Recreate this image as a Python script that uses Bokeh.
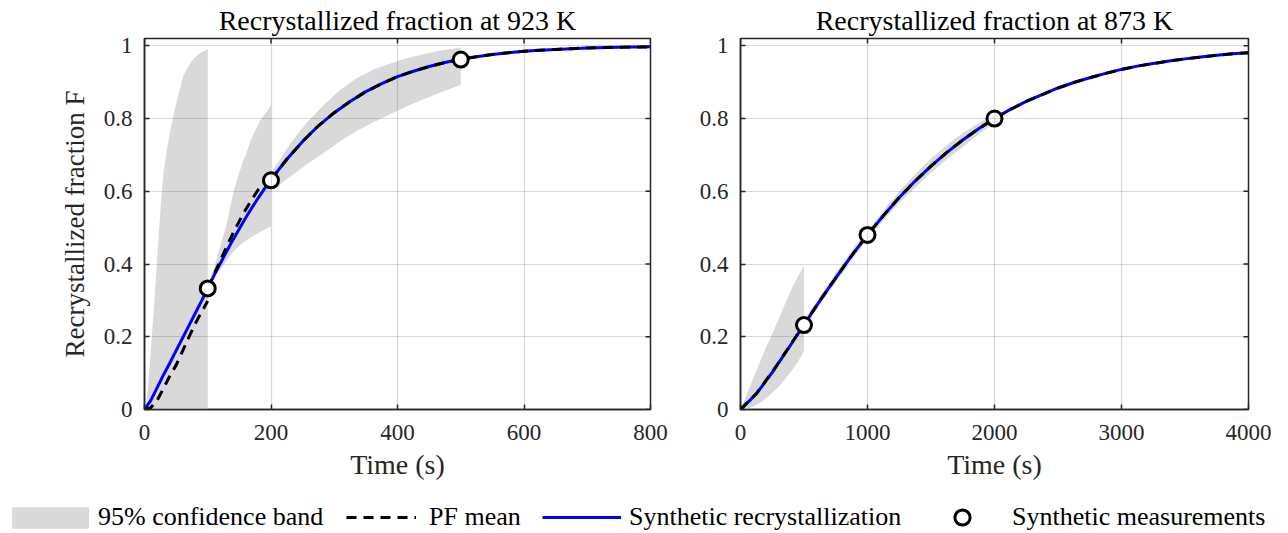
import math
from bokeh.plotting import figure
from bokeh.models import Range1d, FixedTicker, Legend, LegendItem
from bokeh.layouts import row, column
from bokeh.embed import file_html
from bokeh.resources import INLINE

# ---------------- data ----------------
# 923 K panel
t_923 = [0, 10, 20, 30, 40, 50, 60, 70, 80, 90, 100, 110, 120, 130, 140, 150, 160,
         170, 180, 190, 200, 225, 250, 275, 300, 325, 350, 375, 400, 425, 450, 475,
         500, 525, 550, 575, 600, 625, 650, 675, 700, 750, 800]
syn_923 = [0, 0.025, 0.06, 0.095, 0.128, 0.162, 0.196, 0.23, 0.264, 0.298, 0.333,
           0.369, 0.402, 0.435, 0.467, 0.497, 0.527, 0.555, 0.582, 0.608, 0.632,
           0.688, 0.737, 0.780, 0.816, 0.847, 0.874, 0.896, 0.915, 0.930, 0.943,
           0.954, 0.963, 0.970, 0.976, 0.981, 0.985, 0.988, 0.990, 0.992, 0.994,
           0.996, 0.997]
pf1_t_923 = [0, 10, 20, 30, 40, 50, 60, 70, 80, 90, 100]
pf1_923 = [0, 0.005, 0.025, 0.058, 0.092, 0.122, 0.16, 0.198, 0.235, 0.268, 0.298]
pf2_t_923 = [100, 110, 120, 130, 140, 150, 160, 170, 180, 190, 200]
pf2_923 = [0.333, 0.372, 0.41, 0.448, 0.485, 0.518, 0.55, 0.578, 0.605, 0.627, 0.645]
pf3_t_923 = [200, 225, 250, 275, 300, 325, 350, 375, 400, 425, 450, 475, 500, 525,
             550, 575, 600, 625, 650, 675, 700, 750, 800]
pf3_923 = [0.632, 0.688, 0.737, 0.780, 0.816, 0.847, 0.874, 0.896, 0.915, 0.930,
           0.943, 0.954, 0.963, 0.970, 0.976, 0.981, 0.985, 0.988, 0.990, 0.992,
           0.994, 0.996, 0.997]
b1_t_923 = [0, 3, 6, 9, 12, 16, 20, 26, 30, 35, 40, 46, 54, 62, 70, 78, 88, 100]
b1_hi_923 = [0, 0.02, 0.07, 0.14, 0.21, 0.31, 0.41, 0.57, 0.65, 0.71, 0.76, 0.81,
             0.87, 0.92, 0.945, 0.966, 0.98, 0.99]
b1_lo_923 = [0] * 18
b2_t_923 = [100, 110, 115, 120, 130, 141, 155, 160, 168, 180, 185, 200]
b2_hi_923 = [0.34, 0.39, 0.42, 0.45, 0.51, 0.60, 0.68, 0.70, 0.74, 0.785, 0.80, 0.835]
b2_lo_923 = [0.33, 0.36, 0.375, 0.385, 0.41, 0.435, 0.458, 0.463, 0.473, 0.485, 0.49, 0.504]
b3_t_923 = [200, 215, 230, 257, 285, 310, 335, 362, 390, 415, 440, 470, 500]
b3_hi_923 = [0.65, 0.69, 0.73, 0.79, 0.84, 0.88, 0.91, 0.935, 0.952, 0.966, 0.977,
             0.988, 0.995]
b3_lo_923 = [0.60, 0.62, 0.64, 0.674, 0.707, 0.738, 0.765, 0.79, 0.813, 0.834, 0.852,
             0.873, 0.893]
meas_t_923 = [100, 200, 500]
meas_923 = [0.333, 0.63, 0.962]

# 873 K panel
t_873 = [0, 125, 250, 375, 500, 625, 750, 875, 1000, 1125, 1250, 1375, 1500, 1625,
         1750, 1875, 2000, 2125, 2250, 2375, 2500, 2625, 2750, 2875, 3000, 3125,
         3250, 3375, 3500, 3625, 3750, 3875, 4000]
syn_873 = [0, 0.043, 0.102, 0.167, 0.233, 0.299, 0.362, 0.423, 0.480, 0.533, 0.583,
           0.628, 0.669, 0.707, 0.741, 0.772, 0.800, 0.825, 0.847, 0.866, 0.884,
           0.899, 0.912, 0.924, 0.935, 0.944, 0.951, 0.958, 0.964, 0.969, 0.974,
           0.978, 0.981]
pf_873 = [0, 0.044, 0.103, 0.168, 0.234, 0.299, 0.362, 0.423, 0.481, 0.533, 0.583,
          0.628, 0.669, 0.707, 0.741, 0.772, 0.800, 0.825, 0.847, 0.866, 0.884,
          0.899, 0.912, 0.924, 0.935, 0.944, 0.951, 0.958, 0.964, 0.969, 0.974,
          0.978, 0.981]
b1_t_873 = [0, 50, 100, 150, 200, 262, 300, 350, 400, 450, 500]
b1_hi_873 = [0, 0.042, 0.085, 0.128, 0.17, 0.218, 0.248, 0.29, 0.33, 0.364, 0.394]
b1_lo_873 = [0, 0.003, 0.008, 0.018, 0.03, 0.05, 0.062, 0.083, 0.105, 0.13, 0.16]
b2_t_873 = [500, 625, 750, 875, 1000]
b2_hi_873 = [0.245, 0.311, 0.375, 0.436, 0.492]
b2_lo_873 = [0.222, 0.287, 0.35, 0.41, 0.468]
b3_t_873 = [1000, 1125, 1250, 1375, 1500, 1625, 1750, 1875, 2000]
b3_hi_873 = [0.49, 0.548, 0.60, 0.647, 0.69, 0.727, 0.76, 0.788, 0.812]
b3_lo_873 = [0.47, 0.52, 0.568, 0.61, 0.65, 0.688, 0.722, 0.757, 0.788]
meas_t_873 = [500, 1000, 2000]
meas_873 = [0.232, 0.48, 0.80]

y_ticks = [0, 0.2, 0.4, 0.6, 0.8, 1]
x_ticks_923 = [0, 200, 400, 600, 800]
x_ticks_873 = [0, 1000, 2000, 3000, 4000]

FONT = "Liberation Serif"
AX = "#262626"
BAND = "#d9d9d9"
DASH = "10 7"
YMAX = 1.02


def style_axis(ax, ticks):
    ax.ticker = FixedTicker(ticks=ticks)
    ax.axis_line_color = AX
    ax.axis_line_width = 1.5
    ax.major_tick_line_color = AX
    ax.major_tick_line_width = 1.5
    ax.major_tick_in = 5
    ax.major_tick_out = 0
    ax.minor_tick_line_color = None
    ax.major_label_text_font = FONT
    ax.major_label_text_color = AX
    ax.major_label_text_font_size = "23px"


def make_panel(title, xmax, xticks, border, ylabel):
    p = figure(frame_width=border[2], frame_height=371, min_border_left=border[0],
               min_border_right=border[1], min_border_top=37, min_border_bottom=85,
               x_range=Range1d(0, xmax), y_range=Range1d(0, YMAX),
               output_backend="svg", toolbar_location=None, title=title)
    p.title.text_font = FONT
    p.title.text_font_size = "28px"
    p.title.text_font_style = "normal"
    p.title.text_color = "black"
    p.title.align = "center"
    p.title.standoff = 5
    p.outline_line_color = AX
    p.outline_line_width = 1.5
    xa = p.xaxis[0]
    ya = p.yaxis[0]
    style_axis(xa, xticks)
    style_axis(ya, y_ticks)
    ya.major_label_overrides = {0: "0", 1: "1"}
    xa.major_label_standoff = 15
    ya.major_label_standoff = 12
    xa.axis_label = "Time (s)"
    xa.axis_label_text_font = FONT
    xa.axis_label_text_font_size = "28px"
    xa.axis_label_text_font_style = "normal"
    xa.axis_label_text_color = AX
    xa.axis_label_standoff = 6
    if ylabel:
        ya.axis_label = ylabel
        ya.axis_label_text_font = FONT
        ya.axis_label_text_font_size = "27px"
        ya.axis_label_text_font_style = "normal"
        ya.axis_label_text_color = AX
        ya.axis_label_standoff = 11
    for g in (p.xgrid[0], p.ygrid[0]):
        g.grid_line_color = AX
        g.grid_line_alpha = 0.17
        g.grid_line_width = 1.2
        g.level = "glyph"
    p.xgrid[0].ticker = FixedTicker(ticks=xticks)
    p.ygrid[0].ticker = FixedTicker(ticks=y_ticks)
    return p


p1 = make_panel("Recrystallized fraction at 923 K", 800, x_ticks_923,
                (144, 46, 506), "Recrystallized fraction F")
p2 = make_panel("Recrystallized fraction at 873 K", 4000, x_ticks_873,
                (44, 40, 508), None)

# bands
for (bt, lo, hi) in [(b1_t_923, b1_lo_923, b1_hi_923), (b2_t_923, b2_lo_923, b2_hi_923),
                     (b3_t_923, b3_lo_923, b3_hi_923)]:
    r = p1.varea(x=bt, y1=lo, y2=hi, fill_color=BAND, fill_alpha=1)
    r.level = "underlay"
for (bt, lo, hi) in [(b1_t_873, b1_lo_873, b1_hi_873), (b2_t_873, b2_lo_873, b2_hi_873),
                     (b3_t_873, b3_lo_873, b3_hi_873)]:
    r = p2.varea(x=bt, y1=lo, y2=hi, fill_color=BAND, fill_alpha=1)
    r.level = "underlay"

# synthetic curves
p1.line(t_923, syn_923, line_color="#0000ff", line_width=3)
p2.line(t_873, syn_873, line_color="#0000ff", line_width=3)

# PF mean
for (pt, pv) in [(pf1_t_923, pf1_923), (pf2_t_923, pf2_923), (pf3_t_923, pf3_923)]:
    p1.line(pt, pv, line_color="black", line_width=3, line_dash=DASH)
p2.line(t_873, pf_873, line_color="black", line_width=3, line_dash=DASH)

# measurements
p1.scatter(meas_t_923, meas_923, marker="circle", size=15, fill_color="white",
           line_color="black", line_width=3)
p2.scatter(meas_t_873, meas_873, marker="circle", size=15, fill_color="white",
           line_color="black", line_width=3)

# inward ticks on the top and right edges of each box
for (p, xt, xmax) in [(p1, x_ticks_923, 800), (p2, x_ticks_873, 4000)]:
    p.ray(x=xt, y=[YMAX] * len(xt), length=5, length_units="screen",
          angle=-math.pi / 2, line_color=AX, line_width=1.5)
    p.ray(x=[xmax] * len(y_ticks), y=y_ticks, length=5, length_units="screen",
          angle=math.pi, line_color=AX, line_width=1.5)

# ---------------- legend row ----------------
# legend-only figure: its renderers use the real data but sit outside its ranges
pl = figure(width=1288, height=40, min_border=0, x_range=Range1d(-2000, -1000),
            y_range=Range1d(-2, -1), x_axis_location=None, y_axis_location=None,
            output_backend="svg", toolbar_location=None)
pl.outline_line_color = None
pl.xgrid.visible = False
pl.ygrid.visible = False
r_band = pl.varea(x=b1_t_923, y1=b1_lo_923, y2=b1_hi_923, fill_color=BAND, fill_alpha=1)
r_pf = pl.line(pf1_t_923, pf1_923, line_color="black", line_width=3, line_dash=DASH)
r_syn = pl.line(t_923, syn_923, line_color="#0000ff", line_width=3)
r_meas = pl.scatter(meas_t_923, meas_923, marker="circle", size=15, fill_color="white",
                    line_color="black", line_width=3)

# (label, renderer, x, y, glyph width, glyph height, label standoff)
specs = [("95% confidence band", r_band, 2, 2, 96, 27, 0),
         ("PF mean", r_pf, 346, 2, 70, 22, 13),
         ("Synthetic recrystallization", r_syn, 542, 2, 79, 22, 8),
         ("Synthetic measurements", r_meas, 942, -2, 40, 38, 30)]
for (lab, rr, x0, y0, gw, gh, st) in specs:
    lg = Legend(items=[LegendItem(label=lab, renderers=[rr])], location=(x0, y0),
                orientation="horizontal", glyph_width=gw, glyph_height=gh,
                label_standoff=st, padding=0, margin=0, border_line_color=None,
                background_fill_alpha=0, label_text_font=FONT,
                label_text_font_size="26px", label_text_color="black")
    pl.add_layout(lg, "center")

layout = column(row(p1, p2), pl)
open("out.html", "w").write(file_html(layout, INLINE))
